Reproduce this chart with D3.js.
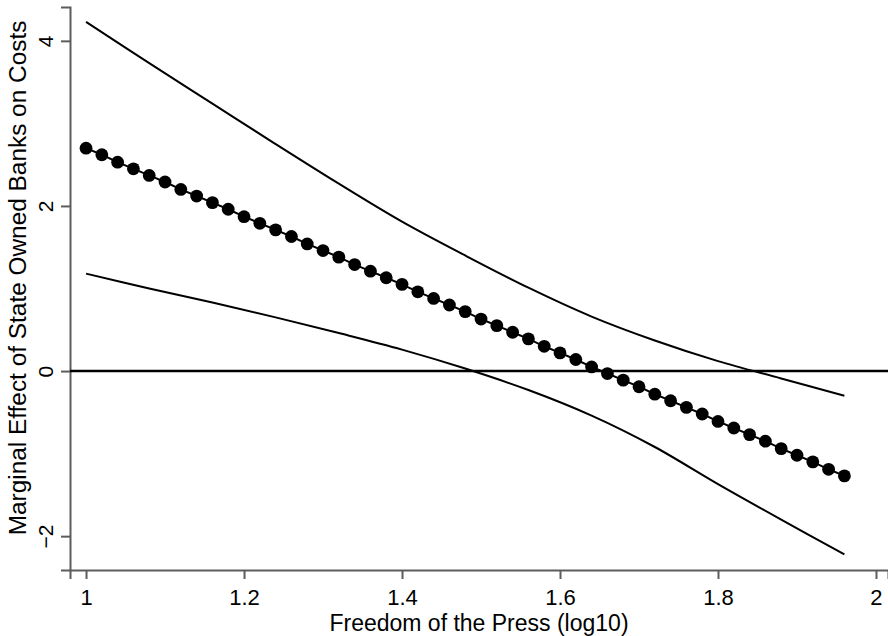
<!DOCTYPE html>
<html>
<head>
<meta charset="utf-8">
<script src="https://cdn.jsdelivr.net/npm/d3@7"></script>
<style>
  body { margin: 0; background: #fff; }
  text { font-family: "Liberation Sans", Arial, sans-serif; fill: #000; }
</style>
</head>
<body>
<svg id="chart" width="888" height="636"></svg>
<script>
///////// Data
var pressValues = [1.00, 1.02, 1.04, 1.06, 1.08, 1.10, 1.12, 1.14, 1.16, 1.18,
                   1.20, 1.22, 1.24, 1.26, 1.28, 1.30, 1.32, 1.34, 1.36, 1.38,
                   1.40, 1.42, 1.44, 1.46, 1.48, 1.50, 1.52, 1.54, 1.56, 1.58,
                   1.60, 1.62, 1.64, 1.66, 1.68, 1.70, 1.72, 1.74, 1.76, 1.78,
                   1.80, 1.82, 1.84, 1.86, 1.88, 1.90, 1.92, 1.94, 1.96]
var marginalEffect = [2.70, 2.62, 2.53, 2.45, 2.37, 2.29, 2.20, 2.12, 2.04, 1.96,
                      1.87, 1.79, 1.71, 1.63, 1.54, 1.46, 1.38, 1.29, 1.21, 1.13,
                      1.05, 0.96, 0.88, 0.80, 0.72, 0.63, 0.55, 0.47, 0.39, 0.30,
                      0.22, 0.14, 0.05, -0.03, -0.11, -0.19, -0.28, -0.36, -0.44, -0.52,
                      -0.61, -0.69, -0.77, -0.85, -0.94, -1.02, -1.10, -1.19, -1.27]

// confidence band, read at a coarser step
var ciPress = [1.00, 1.08, 1.16, 1.24, 1.32, 1.40, 1.48, 1.56, 1.64, 1.72, 1.80, 1.88, 1.96]
var ciUpper = [4.23, 3.73, 3.24, 2.75, 2.27, 1.81, 1.40, 1.01, 0.66, 0.37, 0.12, -0.09, -0.30]
var ciLower = [1.18, 1.00, 0.83, 0.65, 0.46, 0.26, 0.03, -0.23, -0.54, -0.92, -1.37, -1.80, -2.22]

var xTicks = [1, 1.2, 1.4, 1.6, 1.8, 2]
var yTicks = [-2, 0, 2, 4]

var xTitle = "Freedom of the Press (log10)"
var yTitle = "Marginal Effect of State Owned Banks on Costs"

///////// Scales
var svg = d3.select("#chart")
var plotLeft = 70, plotRight = 888, plotTop = 7, plotBottom = 570

var xScale = d3.scaleLinear().domain([0.9797, 2.0152]).range([plotLeft, plotRight])
var yScale = d3.scaleLinear().domain([-2.41, 4.41]).range([plotBottom, plotTop])

var axisColor = "#5c5c5c"

///////// Axes
var xAxis = svg.append("g")
    .attr("transform", "translate(0," + plotBottom + ")")
    .call(d3.axisBottom(xScale).tickValues(xTicks).tickSize(9)
          .tickFormat(d3.format("~g")))
xAxis.select(".domain").attr("stroke", axisColor).attr("stroke-width", 2)
xAxis.selectAll(".tick line").attr("stroke", axisColor).attr("stroke-width", 2)
xAxis.selectAll(".tick text").style("font-size", "22px").attr("fill", "#000")
    .attr("y", 35).attr("dy", 0)

var yAxis = svg.append("g")
    .attr("transform", "translate(" + plotLeft + ",0)")
    .call(d3.axisLeft(yScale).tickValues(yTicks).tickSize(9)
          .tickFormat(d3.format("~g")))
yAxis.select(".domain").attr("stroke", axisColor).attr("stroke-width", 2)
yAxis.selectAll(".tick line").attr("stroke", axisColor).attr("stroke-width", 2)
yAxis.selectAll(".tick text")
    .style("font-size", "21px").attr("fill", "#000")
    .attr("x", 0).attr("dy", 0)
    .attr("text-anchor", "middle")
    .attr("transform", "translate(-17,0) rotate(-90)")

svg.append("text")
    .attr("x", (plotLeft + plotRight) / 2).attr("y", 631)
    .attr("text-anchor", "middle")
    .style("font-size", "23px")
    .text(xTitle)

svg.append("text")
    .attr("transform", "translate(26,278) rotate(-90)")
    .attr("text-anchor", "middle")
    .style("font-size", "24.4px")
    .text(yTitle)

///////// Zero line
svg.append("line")
    .attr("x1", plotLeft).attr("x2", plotRight)
    .attr("y1", yScale(0)).attr("y2", yScale(0))
    .attr("stroke", "#000").attr("stroke-width", 2.5)

///////// Confidence band lines
var ciLine = d3.line()
    .x(function(d) { return xScale(d[0]) })
    .y(function(d) { return yScale(d[1]) })
    .curve(d3.curveCatmullRom)

svg.append("path")
    .attr("d", ciLine(ciPress.map(function(p, i) { return [p, ciUpper[i]] })))
    .attr("fill", "none").attr("stroke", "#000").attr("stroke-width", 2)
svg.append("path")
    .attr("d", ciLine(ciPress.map(function(p, i) { return [p, ciLower[i]] })))
    .attr("fill", "none").attr("stroke", "#000").attr("stroke-width", 2)

///////// Marginal effect line with markers
var effectData = pressValues.map(function(p, i) { return [p, marginalEffect[i]] })
svg.append("path")
    .attr("d", d3.line()
        .x(function(d) { return xScale(d[0]) })
        .y(function(d) { return yScale(d[1]) })(effectData))
    .attr("fill", "none").attr("stroke", "#000").attr("stroke-width", 2)

svg.selectAll(".dot")
    .data(effectData)
    .enter()
    .append("circle")
    .attr("class", "dot")
    .attr("cx", function(d) { return xScale(d[0]) })
    .attr("cy", function(d) { return yScale(d[1]) })
    .attr("r", 6.4)
    .attr("fill", "#000")
</script>
</body>
</html>
